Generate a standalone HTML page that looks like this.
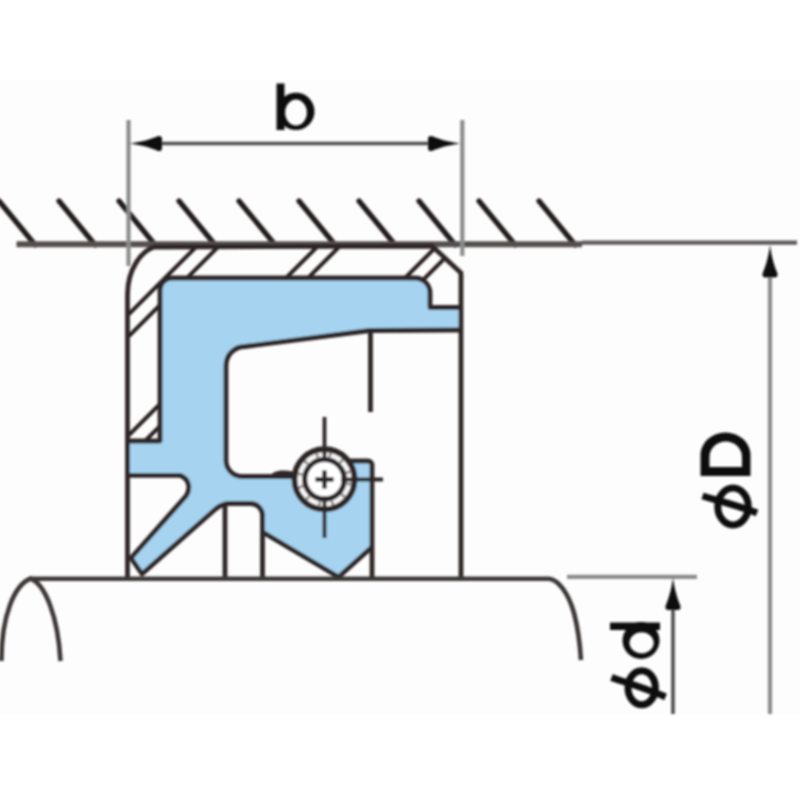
<!DOCTYPE html>
<html><head><meta charset="utf-8"><title>Oil seal cross-section</title>
<style>
html,body{margin:0;padding:0;background:#fff;}
body{width:800px;height:800px;overflow:hidden;}
svg{display:block;}
</style></head>
<body>
<svg width="800" height="800" viewBox="0 0 800 800">
<defs>
<clipPath id="caseClip">
<path d="M127.5,441 L127.5,295 C127.5,268 142,251 154,247 L432,246 L461,273 L461,307.5 L430,307.5 L430,293 A15,15 0 0 0 415,278 L172,278 A12,12 0 0 0 160,290 L160,441 Z"/>
</clipPath>
<clipPath id="picClip"><rect x="0" y="0" width="800" height="714"/></clipPath>
<filter id="soft" x="-5%" y="-5%" width="110%" height="110%"><feGaussianBlur stdDeviation="1.1"/></filter>
</defs>
<rect width="800" height="800" fill="#fff"/>
<rect x="0" y="80" width="800" height="634" fill="#fdfdfd"/>
<g filter="url(#soft)">
<!-- housing hatch -->
<g stroke="#221d1d" stroke-width="5.2" stroke-linecap="round"><line x1="-1" y1="201" x2="35.2" y2="245"/><line x1="59" y1="201" x2="95.2" y2="245"/><line x1="119" y1="201" x2="155.2" y2="245"/><line x1="179" y1="201" x2="215.2" y2="245"/><line x1="239" y1="201" x2="275.2" y2="245"/><line x1="299" y1="201" x2="335.2" y2="245"/><line x1="359" y1="201" x2="395.2" y2="245"/><line x1="419" y1="201" x2="455.2" y2="245"/><line x1="479" y1="201" x2="515.2" y2="245"/><line x1="539" y1="201" x2="575.2" y2="245"/></g>
<!-- housing line -->
<path d="M16.5,244.3 L582,244.3" stroke="#575050" stroke-width="6" fill="none"/>
<path d="M582,242.6 L797,242.6" stroke="#5e5a5a" stroke-width="4.2" fill="none"/>
<!-- extension lines b -->
<g stroke="#8c8c8c" stroke-width="4.2">
<line x1="128.5" y1="120" x2="128.5" y2="266"/>
<line x1="462.3" y1="120" x2="462.3" y2="256"/>
</g>
<!-- dim line b -->
<line x1="150" y1="143.5" x2="440" y2="143.5" stroke="#505050" stroke-width="3.4"/>
<path d="M129,143.5 C140,142.3 150,139.5 157.5,136.2 Q162,135 162,139 L162,148 Q162,152 157.5,150.8 C150,147.5 140,144.7 129,143.5 Z" fill="#111"/>
<path d="M461,143.5 C450,142.3 440,139.5 432.5,136.2 Q428,135 428,139 L428,148 Q428,152 432.5,150.8 C440,147.5 450,144.7 461,143.5 Z" fill="#111"/>
<g fill="#111">
<rect x="276.5" y="83.5" width="8" height="46.5"/>
<path fill-rule="evenodd" d="M296,92.7 A18.5,18.7 0 1 1 296,130.1 A18.5,18.7 0 1 1 296,92.7 Z M296,99.6 A10.9,13 0 1 0 296,125.6 A10.9,13 0 1 0 296,99.6 Z"/>
</g>

<!-- rubber -->
<path fill="#a6d3f0" d="M160,290 A12,12 0 0 1 172,278 L415,278 A15,15 0 0 1 430,293 L430,307.5 L461,307.5 L461,330 L370,330.5 L245,346.5 A19,19 0 0 0 226,365.5 L226,460 A16,16 0 0 0 242,476.5 L293,476.5 L324.5,448 L350,461 L368,461 A4,4 0 0 1 372,465 L372,547 L338.5,577 L262.5,532 L262.5,516 A12,12 0 0 0 250.5,503.5 L229,503.5 Q222,503.5 215,509.5 L142,574 L131,558 L186,496 C190,490 191,480 180,475.3 L128,475.3 L128,441 L160,441 Z"/>

<!-- case hatch -->
<g clip-path="url(#caseClip)" stroke="#221d1d" stroke-width="3.9"><line x1="243" y1="200" x2="-17" y2="460"/><line x1="265" y1="200" x2="5" y2="460"/><line x1="364" y1="200" x2="104" y2="460"/><line x1="386" y1="200" x2="126" y2="460"/><line x1="483" y1="200" x2="223" y2="460"/><line x1="503" y1="200" x2="243" y2="460"/></g>

<!-- seal outlines -->
<g fill="none" stroke="#2e2828" stroke-width="4.8" stroke-linejoin="round">
<path d="M127.5,578 L127.5,295 C127.5,268 142,251 154,247 L432,246 L461,273 L461,578"/>
<path d="M127.5,441 L160,441 L160,290 A12,12 0 0 1 172,278 L415,278 A15,15 0 0 1 430,293 L430,307.5 L461,307.5"/>
<path d="M461,330 L370,330.5 L245,346.5 A19,19 0 0 0 226,365.5 L226,460 A16,16 0 0 0 242,476.5 L293,476.5"/>
<path d="M370.5,330 L370.5,412"/>
<path d="M350,461 L368,461 A4,4 0 0 1 372,465 L372,578"/>
<path d="M372,547 L338.5,577 L262.5,532"/>
<path d="M262.5,578 L262.5,516 A12,12 0 0 0 250.5,503.5 L229,503.5 Q222,503.5 215,509.5 L142,574 L131,558 L186,496 C190,490 191,480 180,475.3 L127.5,475.3"/>
<path d="M225,504 L225,578"/>
</g>

<!-- spring -->
<path d="M269,478 C272,470.5 281,469 293,471.5 L293,478.5 Z" fill="#2e2828"/>
<g>
<circle cx="324.5" cy="479.3" r="25" fill="none" stroke="#2e2828" stroke-width="16"/>
<circle cx="324.5" cy="479.3" r="24.8" fill="none" stroke="#f8f8f8" stroke-width="4.6"/>
<circle cx="324.5" cy="479.3" r="24.8" fill="none" stroke="#8a8484" stroke-width="4.6" stroke-dasharray="2.6 10.4" transform="rotate(8 324.5 479.3)"/>
<circle cx="324.5" cy="479.3" r="17.1" fill="#fff"/>
<g stroke="#2e2828" stroke-width="3.8">
<line x1="324.5" y1="417" x2="324.5" y2="462"/>
<line x1="324.5" y1="496" x2="324.5" y2="538"/>
<line x1="341" y1="479.5" x2="383" y2="479.5"/>
</g>
<g stroke="#2e2828" stroke-width="4.6">
<line x1="315.4" y1="479.5" x2="333.6" y2="479.5"/>
<line x1="324.5" y1="470.4" x2="324.5" y2="488.6"/>
</g>
</g>

<!-- shaft -->
<g fill="none" stroke="#3d3737" stroke-width="4.6">
<path d="M30.5,578.8 L549,578.8 C558,580 568,592 574,613 C578,628 580,645 581,660"/>
<path d="M1.4,661 C1.5,615 14.5,585 30.5,578.5 C45,584 58,616 60.5,661" stroke-linejoin="miter"/>
</g>

<!-- dimension phi D / phi d -->
<g stroke="#8c8c8c" stroke-width="4.2">
<line x1="770" y1="270" x2="770" y2="714"/>
<line x1="567" y1="576.8" x2="697" y2="576.8"/>
</g>
<line x1="673" y1="600" x2="673" y2="714" stroke="#555" stroke-width="3.8"/>
<path d="M770,244.5 C771.2,255.5 774,265.5 777.3,273 Q778.5,277.5 774.5,277.5 L765.5,277.5 Q761.5,277.5 762.7,273 C766,265.5 768.8,255.5 770,244.5 Z" fill="#111"/>
<path d="M673,577 C674.2,588 677,598 680.3,605.5 Q681.5,610 677.5,610 L668.5,610 Q664.5,610 665.7,605.5 C669,598 671.8,588 673,577 Z" fill="#111"/>

<path fill="#111" fill-rule="evenodd" d="M700.5,476 L700.5,455 A25,22.5 0 0 1 750.5,455 L750.5,476 Z M709.5,467 L742,467 L742,457 A16.25,15.5 0 0 0 709.5,457 Z"/>
<g fill="none" stroke="#111" stroke-width="7">
<ellipse cx="733" cy="506.5" rx="15.25" ry="18.5"/>
<path d="M702.5,496 C712,499 740,506 757,513"/>
</g>

<g clip-path="url(#picClip)">
<g fill="#111">
<rect x="610" y="622.5" width="50" height="7.5"/>
<path fill-rule="evenodd" d="M622.5,640.5 A18.5,18.5 0 1 1 659.5,640.5 A18.5,18.5 0 1 1 622.5,640.5 Z M629.5,642.8 A12.1,10.5 0 1 0 653.7,642.8 A12.1,10.5 0 1 0 629.5,642.8 Z"/>
</g>
<g fill="none" stroke="#111" stroke-width="7">
<ellipse cx="641.7" cy="687.7" rx="13.7" ry="17"/>
<path d="M611.5,677.5 C621,681 648,689 665.5,697"/>
</g>
</g>
</g>
</svg>
</body></html>
